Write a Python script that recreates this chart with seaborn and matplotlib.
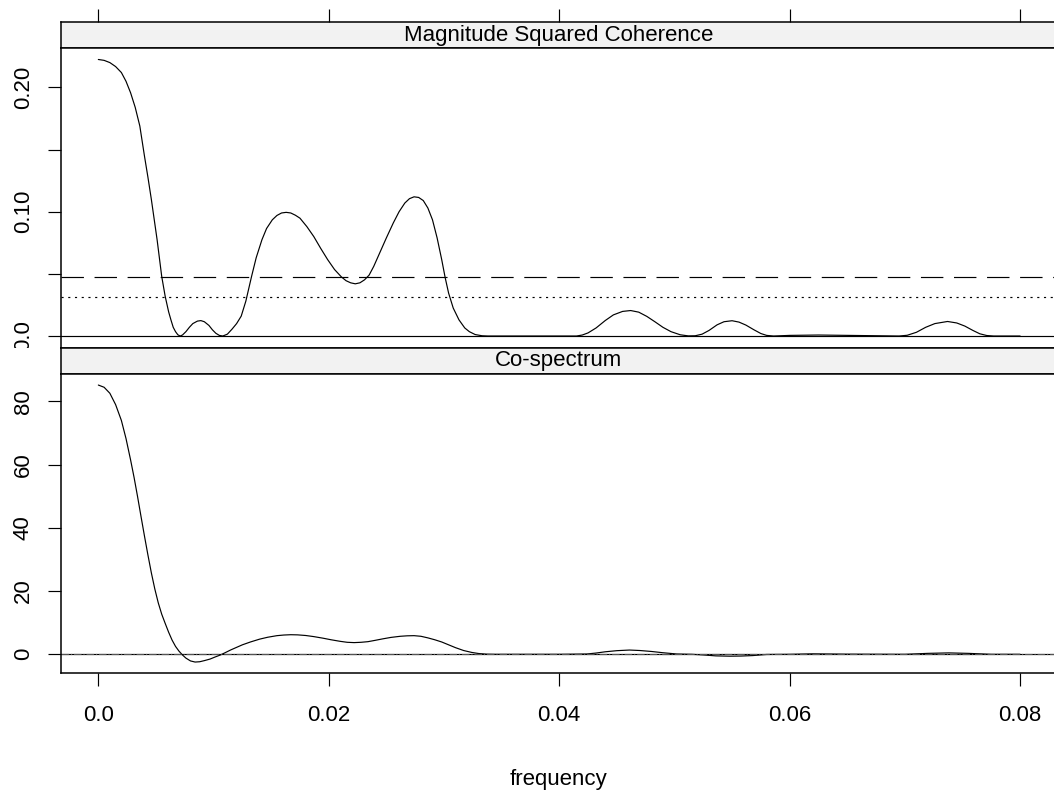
import numpy as np
import pandas as pd
import matplotlib
matplotlib.use("Agg")
import matplotlib.pyplot as plt
from matplotlib.patches import Rectangle
import seaborn as sns

# ── values ─────────────────────────────────────────────────────────────
coh_freq = [0.0000, 0.0005, 0.0010, 0.0015, 0.0020, 0.0024, 0.0028, 0.0032,
            0.0036, 0.0040, 0.0043, 0.0046, 0.0049, 0.0051, 0.0053, 0.0055,
            0.0058, 0.0061, 0.0063, 0.0065, 0.0067, 0.0069, 0.0071, 0.0073,
            0.0076, 0.0079, 0.0082, 0.0086, 0.0089, 0.0092, 0.0096, 0.0099,
            0.0102, 0.0105, 0.0108, 0.0112, 0.0116, 0.0120, 0.0124, 0.0128,
            0.0133, 0.0137, 0.0142, 0.0146, 0.0151, 0.0155, 0.0159, 0.0163,
            0.0167, 0.0171, 0.0175, 0.0181, 0.0187, 0.0193, 0.0199, 0.0205,
            0.0211, 0.0215, 0.0219, 0.0223, 0.0227, 0.0231, 0.0235, 0.0239,
            0.0244, 0.0250, 0.0256, 0.0261, 0.0266, 0.0270, 0.0274, 0.0278,
            0.0282, 0.0286, 0.0290, 0.0294, 0.0298, 0.0301, 0.0304, 0.0308,
            0.0313, 0.0318, 0.0322, 0.0327, 0.0333, 0.0338, 0.0415, 0.0420,
            0.0425, 0.0432, 0.0440, 0.0447, 0.0455, 0.0462, 0.0469, 0.0476,
            0.0483, 0.0490, 0.0497, 0.0505, 0.0512, 0.0518, 0.0524, 0.0530,
            0.0537, 0.0543, 0.0550, 0.0556, 0.0562, 0.0569, 0.0575, 0.0580,
            0.0586, 0.0600, 0.0625, 0.0650, 0.0675, 0.0695, 0.0702, 0.0710,
            0.0718, 0.0726, 0.0737, 0.0745, 0.0752, 0.0759, 0.0765, 0.0771,
            0.0777, 0.0800]
coh_val = [0.2225, 0.2218, 0.2200, 0.2168, 0.2120, 0.2050, 0.1957, 0.1840,
           0.1690, 0.1450, 0.1280, 0.1100, 0.0905, 0.0775, 0.0625, 0.0480,
           0.0320, 0.0195, 0.0130, 0.0070, 0.0035, 0.0010, 0.0000, 0.0008,
           0.0035, 0.0070, 0.0100, 0.0120, 0.0124, 0.0115, 0.0085, 0.0050,
           0.0022, 0.0005, 0.0000, 0.0015, 0.0055, 0.0100, 0.0160, 0.0280,
           0.0480, 0.0630, 0.0775, 0.0865, 0.0935, 0.0970, 0.0990, 0.0995,
           0.0990, 0.0972, 0.0948, 0.0880, 0.0800, 0.0705, 0.0615, 0.0535,
           0.0475, 0.0445, 0.0428, 0.0420, 0.0428, 0.0452, 0.0490, 0.0560,
           0.0665, 0.0790, 0.0910, 0.1000, 0.1070, 0.1105, 0.1120, 0.1115,
           0.1090, 0.1030, 0.0935, 0.0790, 0.0615, 0.0470, 0.0345, 0.0225,
           0.0130, 0.0065, 0.0035, 0.0012, 0.0002, 0.0000, 0.0000, 0.0008,
           0.0025, 0.0065, 0.0125, 0.0170, 0.0198, 0.0205, 0.0192, 0.0158,
           0.0115, 0.0070, 0.0035, 0.0010, 0.0001, 0.0002, 0.0015, 0.0045,
           0.0090, 0.0115, 0.0123, 0.0112, 0.0088, 0.0050, 0.0020, 0.0005,
           0.0000, 0.0005, 0.0008, 0.0005, 0.0002, 0.0000, 0.0006, 0.0030,
           0.0070, 0.0100, 0.0117, 0.0105, 0.0080, 0.0045, 0.0018, 0.0004,
           0.0000, 0.0000]
coh_upper = 0.0477   # dashed reference
coh_lower = 0.0316   # dotted reference

co_freq = [0.0000, 0.0005, 0.0010, 0.0015, 0.0020, 0.0024, 0.0028, 0.0031,
           0.0034, 0.0037, 0.0040, 0.0043, 0.0046, 0.0049, 0.0052, 0.0055,
           0.0058, 0.0061, 0.0064, 0.0067, 0.0070, 0.0073, 0.0076, 0.0080,
           0.0084, 0.0088, 0.0092, 0.0097, 0.0101, 0.0106, 0.0110, 0.0115,
           0.0120, 0.0125, 0.0132, 0.0140, 0.0147, 0.0155, 0.0161, 0.0167,
           0.0173, 0.0180, 0.0187, 0.0195, 0.0202, 0.0210, 0.0216, 0.0222,
           0.0228, 0.0234, 0.0240, 0.0247, 0.0254, 0.0262, 0.0268, 0.0274,
           0.0280, 0.0286, 0.0292, 0.0298, 0.0304, 0.0310, 0.0317, 0.0324,
           0.0330, 0.0337, 0.0345, 0.0400, 0.0424, 0.0432, 0.0440, 0.0450,
           0.0461, 0.0470, 0.0480, 0.0490, 0.0502, 0.0515, 0.0525, 0.0536,
           0.0548, 0.0558, 0.0568, 0.0580, 0.0600, 0.0620, 0.0650, 0.0700,
           0.0720, 0.0738, 0.0755, 0.0775, 0.0800]
co_val = [85.2, 84.5, 82.6, 79.0, 74.0, 68.3, 61.5, 56.0,
          50.0, 43.7, 37.5, 31.5, 25.8, 20.7, 16.3, 12.7,
          9.8, 7.0, 4.5, 2.5, 1.0, -0.2, -1.2, -2.1,
          -2.45, -2.35, -2.0, -1.5, -0.9, -0.2, 0.5, 1.4,
          2.2, 3.0, 3.9, 4.8, 5.4, 5.9, 6.1, 6.2,
          6.15, 5.95, 5.6, 5.1, 4.6, 4.1, 3.8, 3.7,
          3.8, 4.0, 4.4, 4.9, 5.35, 5.7, 5.85, 5.9,
          5.7, 5.2, 4.6, 3.9, 3.0, 2.1, 1.2, 0.6,
          0.25, 0.05, 0.0, 0.0, 0.1, 0.4, 0.8, 1.15,
          1.35, 1.2, 0.9, 0.5, 0.1, 0.0, -0.2, -0.5,
          -0.6, -0.55, -0.4, -0.05, 0.0, 0.15, 0.05, 0.0,
          0.3, 0.45, 0.3, 0.0, 0.0]
co_ref = 0.25        # dash-dot reference just above zero

panel_titles = ["Magnitude Squared Coherence", "Co-spectrum"]
x_ticks = [0.0, 0.02, 0.04, 0.06, 0.08]
x_ticklabels = ["0.0", "0.02", "0.04", "0.06", "0.08"]
coh_yticks = [0.0, 0.05, 0.10, 0.15, 0.20]
coh_yticklabels = ["0.0", "", "0.10", "", "0.20"]
co_yticks = [0, 20, 40, 60, 80]
co_yticklabels = ["0", "20", "40", "60", "80"]

coh_df = pd.DataFrame({"frequency": coh_freq, "value": coh_val})
co_df = pd.DataFrame({"frequency": co_freq, "value": co_val})

# ── style ──────────────────────────────────────────────────────────────
sns.set_theme(style="white")
plt.rcParams["font.family"] = ["Liberation Sans", "DejaVu Sans"]
FS = 16
FRAME_LW = 1.1
LINE_LW = 0.85
TICK_LEN = 9.6

W_PX, H_PX = 1054, 796
fig = plt.figure(figsize=(W_PX / 100, H_PX / 100), dpi=100)


def box(top, bottom, left=61, right=1057):
    return [left / W_PX, 1 - bottom / H_PX, (right - left) / W_PX, (bottom - top) / H_PX]


xlim = (-0.00324, 0.0832)

strip_top = fig.add_axes(box(21.7, 48.3))
ax_top = fig.add_axes(box(48.3, 347.7))
strip_bot = fig.add_axes(box(347.5, 374.3))
ax_bot = fig.add_axes(box(374.3, 672.7))

for s, title in zip([strip_top, strip_bot], panel_titles):
    s.set_facecolor("#F2F2F2")
    s.set_xlim(xlim)
    s.set_yticks([])
    s.text(0.5, 0.5, title, transform=s.transAxes, ha="center", va="center",
           fontsize=FS, color="black")
    for sp in s.spines.values():
        sp.set_linewidth(FRAME_LW)
        sp.set_color("black")

# top strip carries the top axis ticks (no labels)
strip_top.set_xticks(x_ticks)
strip_top.tick_params(axis="x", which="both", bottom=False, labelbottom=False,
                      top=True, labeltop=False, direction="out",
                      length=TICK_LEN, width=LINE_LW, color="black")
strip_bot.set_xticks([])

# ── coherence panel ────────────────────────────────────────────────────
sns.lineplot(data=coh_df, x="frequency", y="value", ax=ax_top,
             color="black", linewidth=LINE_LW)
ax_top.axhline(0, color="black", lw=LINE_LW)
ax_top.axhline(coh_upper, color="black", lw=LINE_LW, linestyle=(0, (19, 9)))
ax_top.axhline(coh_lower, color="black", lw=LINE_LW, linestyle=(0, (1.8, 3.9)))
ax_top.set_xlim(xlim)
ax_top.set_ylim(-0.0094, 0.2315)
ax_top.set_xticks([])
ax_top.set_yticks(coh_yticks)
ax_top.set_yticklabels(coh_yticklabels)

# ── co-spectrum panel ──────────────────────────────────────────────────
sns.lineplot(data=co_df, x="frequency", y="value", ax=ax_bot,
             color="black", linewidth=LINE_LW)
ax_bot.axhline(0, color="black", lw=LINE_LW)
ax_bot.axhline(co_ref, color="#555555", lw=LINE_LW, linestyle="-.")
ax_bot.set_xlim(xlim)
ax_bot.set_ylim(-5.82, 88.6)
ax_bot.set_xticks(x_ticks)
ax_bot.set_xticklabels(x_ticklabels)
ax_bot.set_yticks(co_yticks)
ax_bot.set_yticklabels(co_yticklabels)

for ax in [ax_top, ax_bot]:
    ax.set_xlabel("")
    ax.set_ylabel("")
    ax.set_facecolor("white")
    for sp in ax.spines.values():
        sp.set_linewidth(FRAME_LW)
        sp.set_color("black")
    ax.tick_params(axis="y", left=True, right=False, direction="out",
                   length=TICK_LEN, width=LINE_LW, color="black",
                   labelsize=FS, labelcolor="black", labelrotation=90, pad=10)
    for lab in ax.get_yticklabels():
        lab.set_verticalalignment("center")

ax_bot.tick_params(axis="x", bottom=True, top=False, direction="out",
                   length=TICK_LEN, width=LINE_LW, color="black",
                   labelsize=FS, labelcolor="black", pad=14)

fig.text(559 / W_PX, 1 - 779 / H_PX, "frequency", ha="center", va="center",
         fontsize=FS, color="black")

# lattice clips the "0.0" label at the panel boundary
fig.add_artist(Rectangle((0, 1 - 362 / H_PX), 56 / W_PX, 14.5 / H_PX,
                         transform=fig.transFigure, facecolor="white",
                         edgecolor="none", zorder=10))

fig.savefig("out.png", dpi=100)
